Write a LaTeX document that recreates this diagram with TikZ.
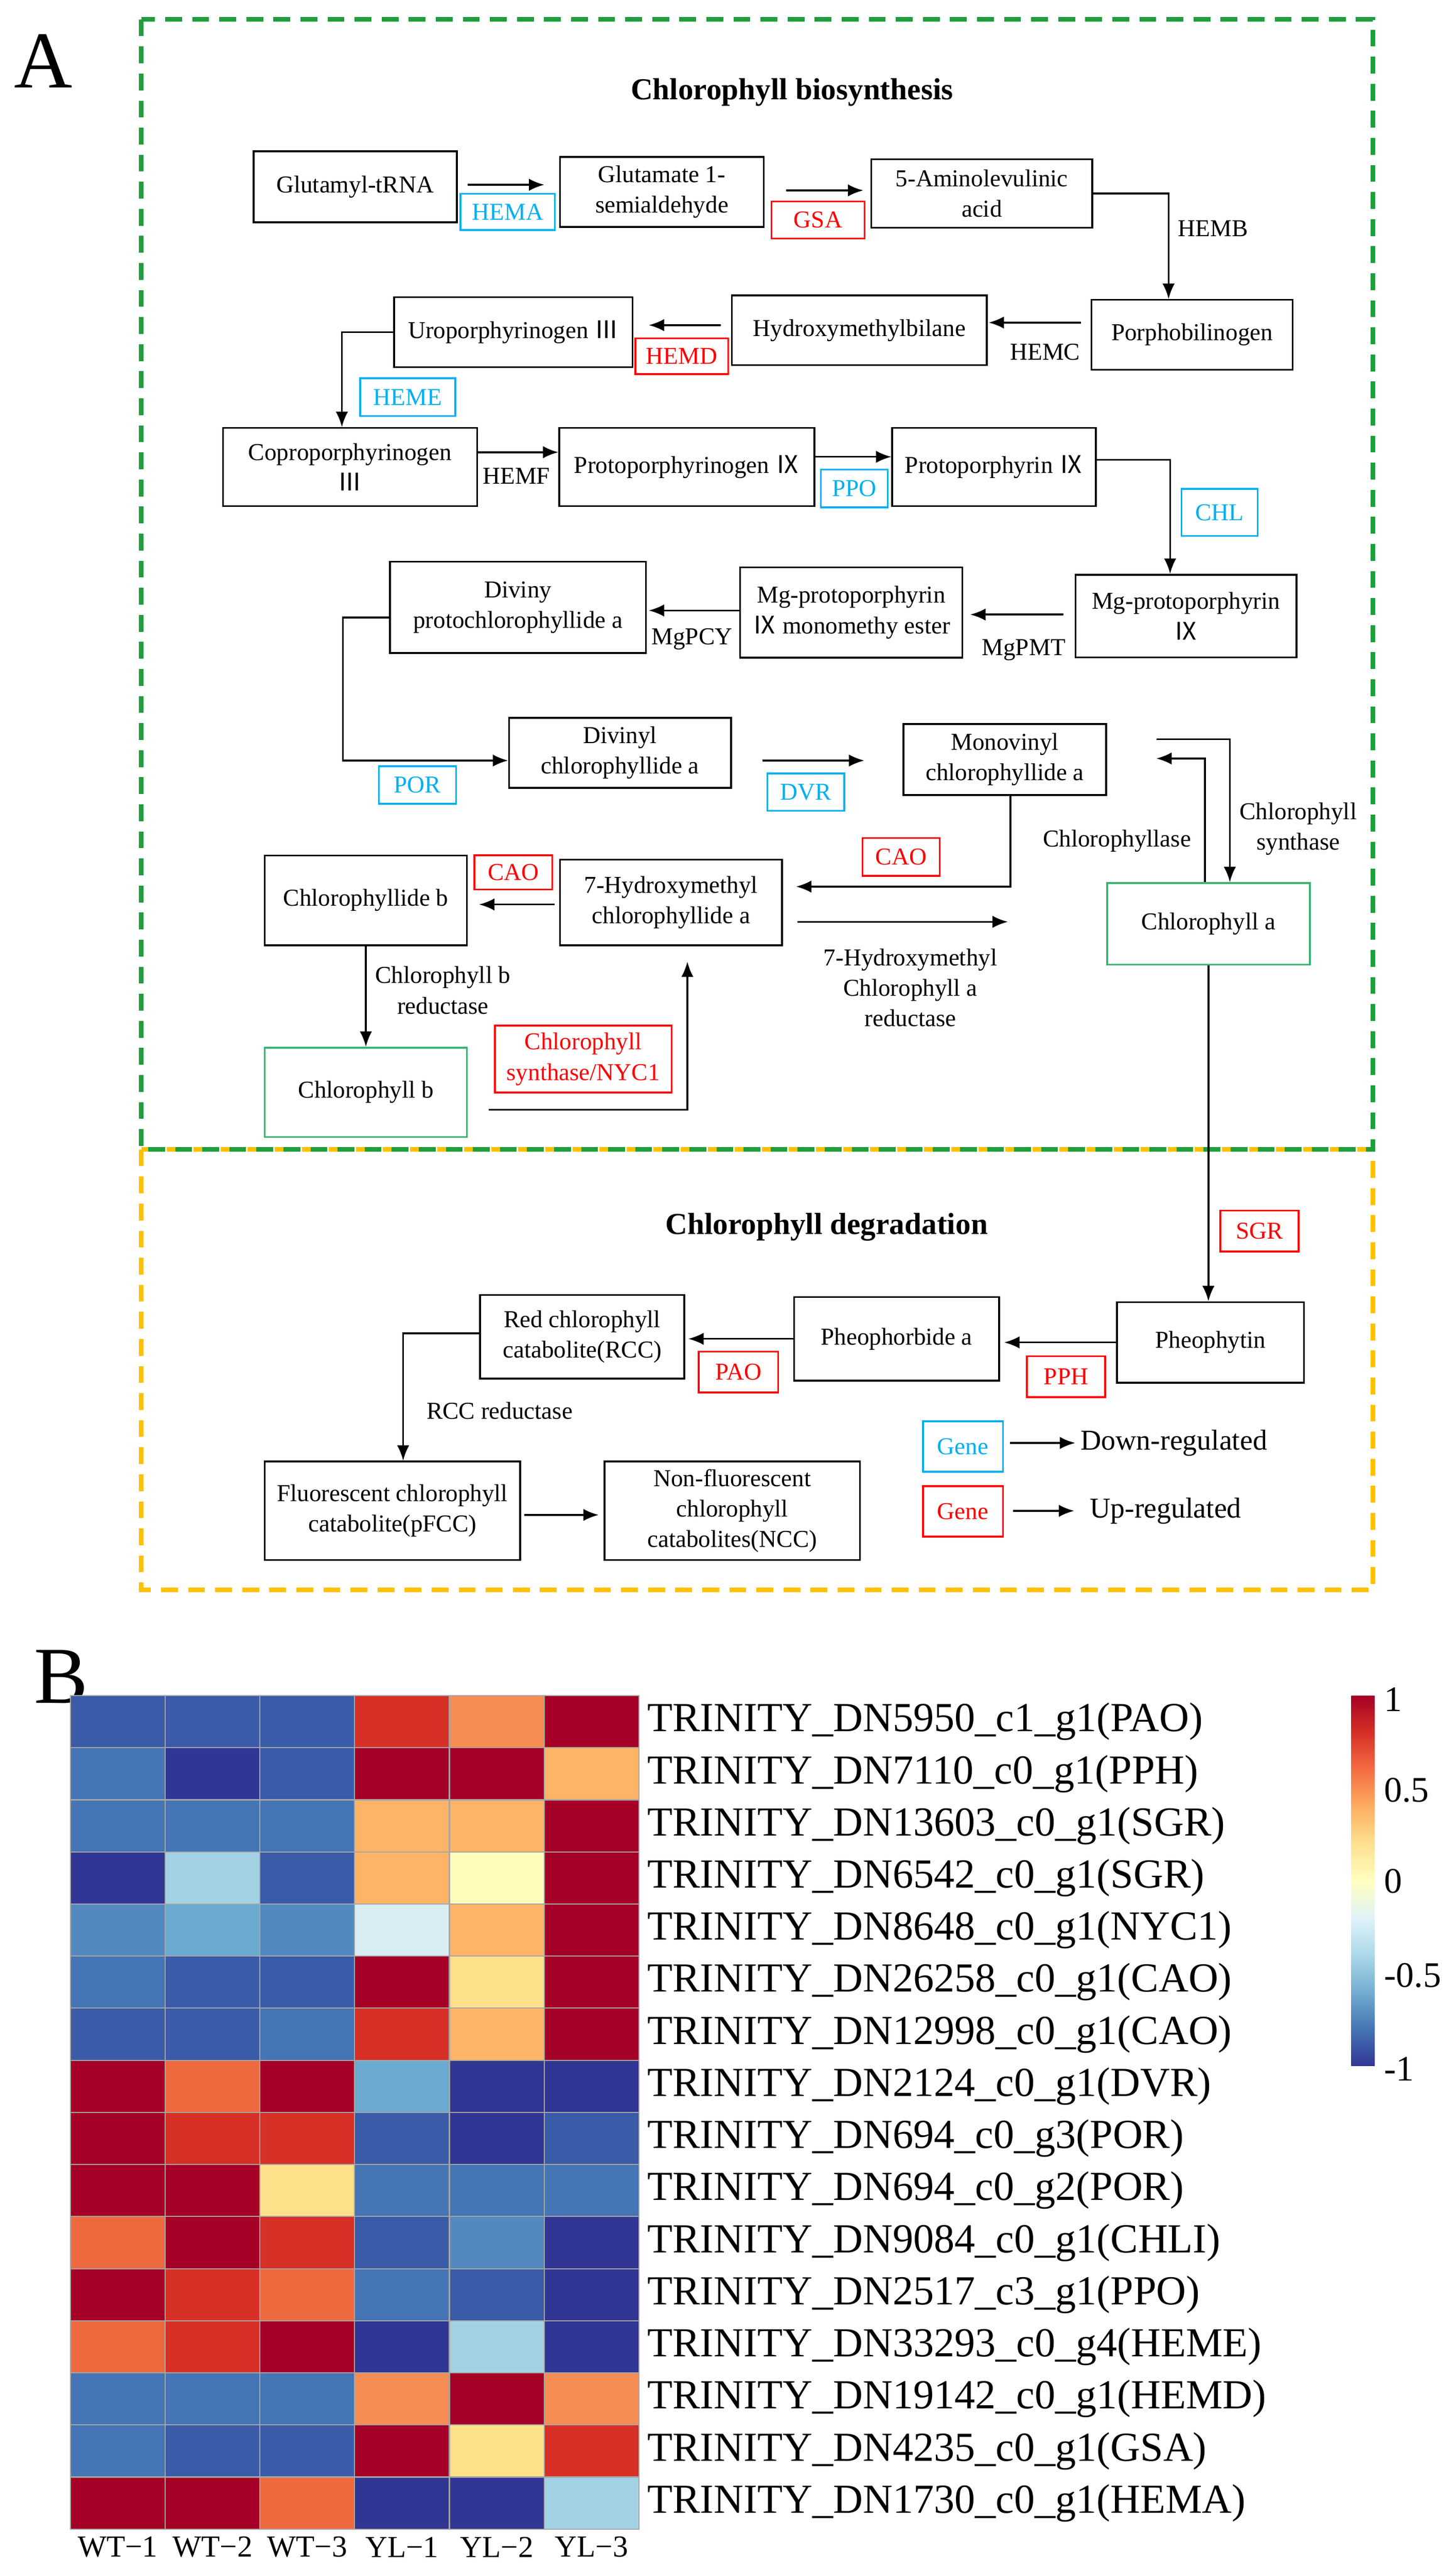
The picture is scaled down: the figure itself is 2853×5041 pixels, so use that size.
\documentclass[tikz,border=0pt]{standalone}
\usepackage{fontspec}
\setmainfont{Liberation Serif}
\newfontfamily\cjk{Noto Sans CJK SC}
\usetikzlibrary{arrows.meta}
\definecolor{upred}{HTML}{FF0000}
\definecolor{dncyan}{HTML}{00B0F0}
\definecolor{boxgreen}{HTML}{3CB371}
\definecolor{framegreen}{HTML}{1E9E3C}
\definecolor{frameorange}{HTML}{FFC000}
% heatmap colours
\definecolor{c1}{HTML}{A50026}
\definecolor{c2}{HTML}{D73027}
\definecolor{c3}{HTML}{EE6A3E}
\definecolor{c4}{HTML}{F68D52}
\definecolor{c5}{HTML}{FDB466}
\definecolor{c6}{HTML}{FEE08B}
\definecolor{c7}{HTML}{FEFCBB}
\definecolor{c8}{HTML}{D8EEF4}
\definecolor{c9}{HTML}{A3D2E5}
\definecolor{c10}{HTML}{6AAAD0}
\definecolor{c11}{HTML}{5389C0}
\definecolor{c12}{HTML}{4575B4}
\definecolor{c13}{HTML}{3A5BA7}
\definecolor{c14}{HTML}{313695}
\newcommand\bodyfs{\fontsize{13.5}{17}\selectfont}
\newcommand\rIII{{\cjk Ⅲ}}
\newcommand\rIX{{\cjk Ⅸ}}
\tikzset{
  box/.style={draw, line width=1pt, align=center, inner sep=1pt, font=\bodyfs},
  upbox/.style={box, draw=upred, text=upred},
  dnbox/.style={box, draw=dncyan, text=dncyan},
  endbox/.style={box, draw=boxgreen},
  enz/.style={align=center, inner sep=0pt, font=\bodyfs},
  arr/.style={-{Latex[length=3mm,width=2.4mm]}, line width=1pt},
  frame/.style={line width=2.5pt, dash pattern=on 0.33cm off 0.2cm}
}
\begin{document}
\begin{tikzpicture}[x=0.01cm,y=-0.01cm]
\useasboundingbox (0,0) rectangle (2853,5041);

% panel frames
\draw[frame, frameorange] (277,2252) rectangle (2690,3115);
\draw[frame, framegreen] (277,38) rectangle (2690,2252);
\node[font=\fontsize{45}{45}\selectfont] (labA) at (85,120) {A};
\node[font=\fontsize{45}{45}\selectfont] (labB) at (120,3285) {B};
\node[font=\fontsize{17}{20}\selectfont\bfseries] (titbio) at (1552,181) {Chlorophyll biosynthesis};
\node[font=\fontsize{17}{20}\selectfont\bfseries] (titdeg) at (1620,2404) {Chlorophyll degradation};

% biosynthesis, row 1
\node[box, minimum width=3.98cm, minimum height=1.39cm] (glut) at (696,366) {Glutamyl-tRNA};
\node[box, minimum width=3.99cm, minimum height=1.37cm] (gsal) at (1297,376) {Glutamate 1-\\semialdehyde};
\node[box, minimum width=4.33cm, minimum height=1.34cm] (ala) at (1924,379) {5-Aminolevulinic\\acid};
\node[dnbox, minimum width=1.85cm, minimum height=0.71cm] (hema) at (995,415) {HEMA};
\node[upbox, minimum width=1.82cm, minimum height=0.73cm] (gsa) at (1603,431) {GSA};
\draw[arr] ([xshift=.2cm,yshift=.04cm]glut.east) -- ([xshift=-.29cm,yshift=.04cm]glut.east -| gsal.west);
\draw[arr] ([xshift=.42cm,yshift=.03cm]gsal.east) -- ([xshift=-.14cm,yshift=.03cm]gsal.east -| ala.west);
\node[enz, anchor=west] (hemb) at (2308,448) {HEMB};

% row 2
\node[box, minimum width=3.94cm, minimum height=1.37cm] (pbg) at (2336,656) {Porphobilinogen};
\node[box, minimum width=4.99cm, minimum height=1.37cm] (hmb) at (1684,647) {Hydroxymethylbilane};
\node[box, minimum width=4.67cm, minimum height=1.37cm] (uro) at (1006,651) {Uroporphyrinogen \rIII};
\draw[arr] (ala.east) -| ([xshift=-.46cm]pbg.north);
\node[enz] (hemc) at (2048,690) {HEMC};
\node[upbox, minimum width=1.82cm, minimum height=0.70cm] (hemd) at (1336,698) {HEMD};
\draw[arr] ([xshift=-.19cm,yshift=.24cm]pbg.west) -- ([xshift=.02cm,yshift=.24cm]pbg.west -| hmb.east);
\draw[arr] ([xshift=-.2cm,yshift=.1cm]hmb.west) -- ([xshift=.3cm,yshift=.1cm]hmb.west -| uro.east);
\node[dnbox, minimum width=1.86cm, minimum height=0.74cm] (heme) at (799,778) {HEME};

% row 3
\node[box, minimum width=4.98cm, minimum height=1.53cm] (copro) at (686,915) {Coproporphyrinogen\\\rIII};
\node[box, minimum width=5cm, minimum height=1.53cm] (protogen) at (1346,915) {Protoporphyrinogen \rIX};
\node[box, minimum width=3.99cm, minimum height=1.53cm] (proto) at (1948,915) {Protoporphyrin \rIX};
\draw[arr] (uro.west) -| ([xshift=-.16cm]copro.north);
\draw[arr] ([yshift=.29cm]copro.east) -- ([yshift=.29cm]copro.east -| protogen.west);
\node[enz] (hemf) at (1012,933) {HEMF};
\draw[arr] ([yshift=.2cm]protogen.east) -- ([yshift=.2cm]protogen.east -| proto.west);
\node[dnbox, minimum width=1.31cm, minimum height=0.74cm] (ppo) at (1674,957) {PPO};
\node[dnbox, minimum width=1.49cm, minimum height=0.92cm] (chl) at (2390,1004) {CHL};

% row 4
\node[box, minimum width=4.33cm, minimum height=1.62cm] (mgp) at (2324,1207) {Mg-protoporphyrin\\\rIX};
\node[box, minimum width=4.35cm, minimum height=1.77cm] (mgme) at (1668,1200) {Mg-protoporphyrin\\\rIX{} monomethy ester};
\node[box, minimum width=5.01cm, minimum height=1.79cm] (dvpchl) at (1015,1190) {Diviny\\protochlorophyllide a};
\draw[arr] ([yshift=.14cm]proto.east) -| ([xshift=-.31cm]mgp.north);
\draw[arr] ([xshift=-.22cm,yshift=.03cm]mgp.west) -- ([xshift=.14cm,yshift=.03cm]mgp.west -| mgme.east);
\node[enz] (mgpmt) at (2006,1274) {MgPMT};
\draw[arr] ([yshift=.04cm]mgme.west) -- ([xshift=.04cm,yshift=.04cm]mgme.west -| dvpchl.east);
\node[enz] (mgpcy) at (1356,1252) {MgPCY};

% row 5
\node[box, minimum width=4.35cm, minimum height=1.37cm] (dvchl) at (1215,1475) {Divinyl\\chlorophyllide a};
\node[box, minimum width=3.97cm, minimum height=1.39cm] (mvchl) at (1969,1488) {Monovinyl\\chlorophyllide a};
\node[dnbox, minimum width=1.51cm, minimum height=0.74cm] (por) at (818,1538) {POR};
\node[dnbox, minimum width=1.51cm, minimum height=0.73cm] (dvr) at (1579,1552) {DVR};
\coordinate (porbend) at (672,1490);
\draw[arr] ([yshift=-.2cm]dvpchl.west) -| (porbend) -- (porbend -| dvchl.west);
\draw[arr] ([xshift=.6cm,yshift=-.15cm]dvchl.east) -- ([xshift=-.75cm,yshift=-.15cm]dvchl.east -| mvchl.west);

% row 6
\node[box, minimum width=4.35cm, minimum height=1.68cm] (hmchl) at (1315,1768) {7-Hydroxymethyl\\chlorophyllide a};
\node[box, minimum width=3.96cm, minimum height=1.76cm] (chlideb) at (717,1764) {Chlorophyllide b};
\node[endbox, minimum width=3.97cm, minimum height=1.6cm] (chla) at (2368,1810) {Chlorophyll a};
\node[upbox, minimum width=1.51cm, minimum height=0.74cm] (caor) at (1766,1679) {CAO};
\node[upbox, minimum width=1.53cm, minimum height=0.67cm] (caol) at (1006,1709) {CAO};
\coordinate (caoend) at (1560,1737);
\draw[arr] ([xshift=.11cm]mvchl.south) |- (caoend);
\draw[arr] ([xshift=-.09cm,yshift=-.04cm]hmchl.west) -- ([xshift=.22cm,yshift=-.04cm]hmchl.west -| chlideb.east);
\coordinate (hmredend) at (1975,1806);
\draw[arr] ([xshift=.28cm]hmchl.east |- hmredend) -- (hmredend);
\node[enz] (hmred) at (1784,1935) {7-Hydroxymethyl\\Chlorophyll a\\reductase};
\coordinate (synstart) at (2266,1448);
\draw[arr] (synstart) -| ([xshift=.42cm]chla.north);
\coordinate (aseend) at (2266,1486);
\draw[arr] ([xshift=-.07cm]chla.north) |- (aseend);
\node[enz] (chlsyn) at (2544,1624) {Chlorophyll\\synthase};
\node[enz] (chlase) at (2189,1648) {Chlorophyllase};

% row 7
\node[endbox, minimum width=3.96cm, minimum height=1.75cm] (chlb) at (717,2140) {Chlorophyll b};
\draw[arr] (chlideb.south) -- (chlb.north);
\node[enz] (chlbred) at (868,1940) {Chlorophyll b\\reductase};
\node[upbox, minimum width=3.46cm, minimum height=1.31cm] (nyc) at (1143,2075) {Chlorophyll\\synthase/NYC1};
\coordinate (nycend) at (1347,1884);
\draw[arr] ([xshift=.41cm,yshift=-.34cm]chlb.east) -| (nycend);

% degradation
\node[box, minimum width=3.66cm, minimum height=1.58cm] (pheo) at (2372,2630) {Pheophytin};
\node[box, minimum width=4.02cm, minimum height=1.64cm] (pheide) at (1757,2623) {Pheophorbide a};
\node[box, minimum width=4cm, minimum height=1.64cm] (rcc) at (1141,2619) {Red chlorophyll\\catabolite(RCC)};
\node[upbox, minimum width=1.53cm, minimum height=0.8cm] (sgr) at (2468,2412) {SGR};
\draw[arr] (chla.south) -- (chla.south |- pheo.north);
\draw[arr] (pheo.west) -- ([xshift=.08cm]pheo.west -| pheide.east);
\node[upbox, minimum width=1.53cm, minimum height=0.8cm] (pph) at (2089,2697) {PPH};
\draw[arr] (pheide.west) -- ([xshift=.06cm]pheide.west -| rcc.east);
\node[upbox, minimum width=1.56cm, minimum height=0.8cm] (pao) at (1447,2688) {PAO};
\node[box, minimum width=5cm, minimum height=1.93cm] (pfcc) at (769,2960) {Fluorescent chlorophyll\\catabolite(pFCC)};
\node[box, minimum width=5cm, minimum height=1.93cm] (ncc) at (1435,2960) {Non-fluorescent\\chlorophyll\\catabolites(NCC)};
\draw[arr] ([yshift=.07cm]rcc.west) -| ([xshift=.21cm]pfcc.north);
\node[enz] (rccred) at (979,2764) {RCC reductase};
\draw[arr] ([xshift=.06cm,yshift=-.08cm]pfcc.east) -- ([xshift=-.1cm,yshift=-.08cm]pfcc.east -| ncc.west);

% legend
\node[dnbox, minimum width=1.57cm, minimum height=0.99cm] (gdn) at (1887,2834) {Gene};
\node[upbox, minimum width=1.57cm, minimum height=0.99cm] (gup) at (1887,2961) {Gene};
\node[anchor=west, inner sep=0pt, font=\fontsize{16}{19}\selectfont] (ldn) at (2117,2827) {Down-regulated};
\node[anchor=west, inner sep=0pt, font=\fontsize{16}{19}\selectfont] (lup) at (2135,2960) {Up-regulated};
\draw[arr] ([xshift=.12cm]gdn.east |- ldn.west) -- ([xshift=-.1cm]ldn.west);
\draw[arr] ([xshift=.18cm]gup.east |- lup.west) -- ([xshift=-.3cm]lup.west);

% heatmap
\foreach \row [count=\r] in {
  {c13,c13,c13,c2,c4,c1},{c12,c14,c13,c1,c1,c5},{c12,c12,c12,c5,c5,c1},
  {c14,c9,c13,c5,c7,c1},{c11,c10,c11,c8,c5,c1},{c12,c13,c13,c1,c6,c1},
  {c13,c13,c12,c2,c5,c1},{c1,c3,c1,c10,c14,c14},{c1,c2,c2,c13,c14,c13},
  {c1,c1,c6,c12,c12,c12},{c3,c1,c2,c13,c11,c14},{c1,c2,c3,c12,c13,c14},
  {c3,c2,c1,c14,c9,c14},{c12,c12,c12,c4,c1,c4},{c12,c13,c13,c1,c6,c2},
  {c1,c1,c3,c14,c14,c9}}
  \foreach \cc [count=\c] in \row
    \filldraw[fill=\cc, draw=gray!70, line width=0.6pt]
      ({138+(\c-1)*185.67},{3322+(\r-1)*102.06}) rectangle ++(185.67,102.06);
\foreach \gene [count=\r] in {
  TRINITY\_DN5950\_c1\_g1(PAO),TRINITY\_DN7110\_c0\_g1(PPH),
  TRINITY\_DN13603\_c0\_g1(SGR),TRINITY\_DN6542\_c0\_g1(SGR),
  TRINITY\_DN8648\_c0\_g1(NYC1),TRINITY\_DN26258\_c0\_g1(CAO),
  TRINITY\_DN12998\_c0\_g1(CAO),TRINITY\_DN2124\_c0\_g1(DVR),
  TRINITY\_DN694\_c0\_g3(POR),TRINITY\_DN694\_c0\_g2(POR),
  TRINITY\_DN9084\_c0\_g1(CHLI),TRINITY\_DN2517\_c3\_g1(PPO),
  TRINITY\_DN33293\_c0\_g4(HEME),TRINITY\_DN19142\_c0\_g1(HEMD),
  TRINITY\_DN4235\_c0\_g1(GSA),TRINITY\_DN1730\_c0\_g1(HEMA)}
  \node[anchor=west, inner sep=0pt, font=\fontsize{23}{26}\selectfont] (gene\r) at (1268,{3322+(\r-0.5)*102.06}) {\gene};
\foreach \smp [count=\c] in {WT−1,WT−2,WT−3,YL−1,YL−2,YL−3}
  \node[font=\fontsize{17}{20}\selectfont] (smp\c) at ({138+(\c-0.5)*185.67},4990) {\smp};

% colour key
\foreach \ta/\tb [count=\k] in {c1/D73027,D73027/F46D43,F46D43/FDAE61,FDAE61/FEE090,FEE090/FFFFBF,
    FFFFBF/E0F3F8,E0F3F8/ABD9E9,ABD9E9/74ADD1,74ADD1/4575B4,4575B4/313695}
{
  \definecolor{ktop}{HTML}{A50026}
  \ifnum\k>1 \definecolor{ktop}{HTML}{\ta}\fi
  \definecolor{kbot}{HTML}{\tb}
  \shade[top color=ktop, bottom color=kbot] (2648,{3322+(\k-1)*72.5}) rectangle (2694,{3322+\k*72.5+0.5});
}
\foreach \lab/\yy [count=\k] in {1/3330,0.5/3507,0/3686,-0.5/3870,-1/4053}
  \node[anchor=west, inner sep=0pt, font=\fontsize{20}{22}\selectfont] (key\k) at (2712,\yy) {\lab};
\end{tikzpicture}
\end{document}
